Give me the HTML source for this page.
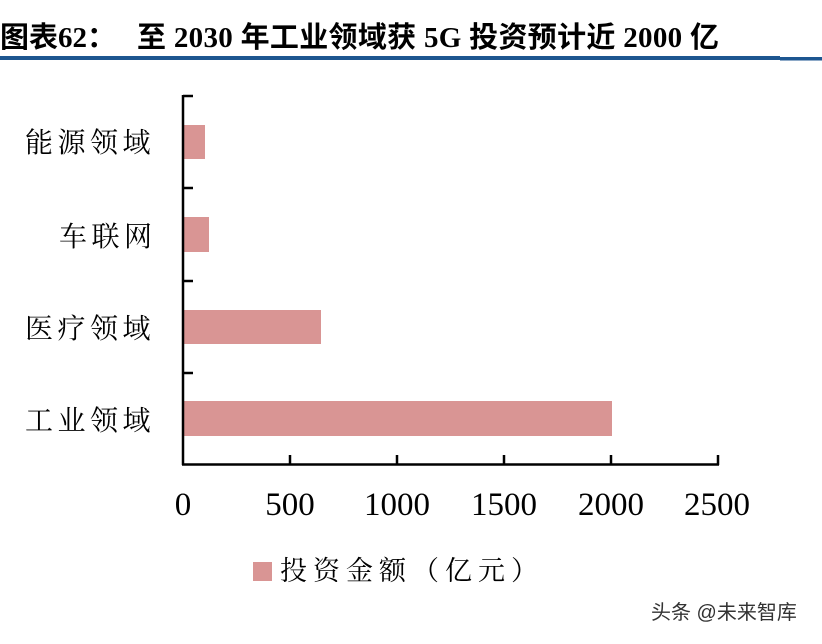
<!DOCTYPE html>
<html>
<head>
<meta charset="utf-8">
<style>
  html, body { margin: 0; padding: 0; background: #ffffff; }
  body { width: 822px; height: 644px; overflow: hidden; }
  svg { display: block; }
</style>
</head>
<body>
<svg width="822" height="644" viewBox="0 0 822 644" xmlns="http://www.w3.org/2000/svg">
  <rect x="0" y="0" width="822" height="644" fill="#ffffff"/>

  <!-- Title -->
  <text x="0" y="47" font-family="'Liberation Serif', 'Noto Sans CJK SC', sans-serif" font-weight="bold" font-size="29" fill="#000">图表62：</text>
  <text x="137" y="47" textLength="582" lengthAdjust="spacing" font-family="'Liberation Serif', 'Noto Sans CJK SC', sans-serif" font-weight="bold" font-size="29" fill="#000">至 2030 年工业领域获 5G 投资预计近 2000 亿</text>

  <!-- Blue rule -->
  <rect x="0" y="56" width="780" height="4" fill="#1d5690"/>
  <rect x="780" y="57" width="42" height="3.5" fill="#1d5690"/>

  <!-- Bars -->
  <g fill="#d99594">
    <rect x="184" y="125" width="21" height="34"/>
    <rect x="184" y="217" width="25" height="35"/>
    <rect x="184" y="310" width="137" height="34"/>
    <rect x="184" y="401" width="428" height="35"/>
  </g>

  <!-- Axes -->
  <g stroke="#000" stroke-width="2.5" fill="none">
    <line x1="183" y1="95" x2="183" y2="465"/>
    <line x1="182" y1="464.5" x2="719" y2="464.5"/>
    <line x1="183" y1="96" x2="193" y2="96"/>
    <line x1="183" y1="188" x2="193" y2="188"/>
    <line x1="183" y1="281" x2="193" y2="281"/>
    <line x1="183" y1="373" x2="193" y2="373"/>
    <line x1="290" y1="455" x2="290" y2="465"/>
    <line x1="397" y1="455" x2="397" y2="465"/>
    <line x1="504" y1="455" x2="504" y2="465"/>
    <line x1="611" y1="455" x2="611" y2="465"/>
    <line x1="718" y1="455" x2="718" y2="465"/>
  </g>

  <!-- Y labels -->
  <g font-family="'Liberation Serif', 'Noto Serif CJK SC', serif" font-size="28" fill="#000" letter-spacing="4.5">
    <text x="25" y="152">能源领域</text>
    <text x="59" y="246">车联网</text>
    <text x="25" y="338">医疗领域</text>
    <text x="25" y="430">工业领域</text>
  </g>

  <!-- X labels -->
  <g font-family="'Liberation Serif', serif" font-size="33" fill="#000" text-anchor="middle">
    <text x="183" y="515">0</text>
    <text x="290" y="515">500</text>
    <text x="397" y="515">1000</text>
    <text x="504" y="515">1500</text>
    <text x="611" y="515">2000</text>
    <text x="717" y="515">2500</text>
  </g>

  <!-- Legend -->
  <rect x="253" y="562" width="19" height="19" fill="#d99594"/>
  <text x="280" y="580" font-family="'Liberation Serif', 'Noto Serif CJK SC', serif" font-size="27" letter-spacing="6" fill="#000">投资金额（亿元）</text>

  <!-- Watermark -->
  <text x="651" y="619" font-family="'Liberation Sans', 'Noto Sans CJK SC', sans-serif" font-size="20" fill="#333">头条 @未来智库</text>
</svg>
</body>
</html>
